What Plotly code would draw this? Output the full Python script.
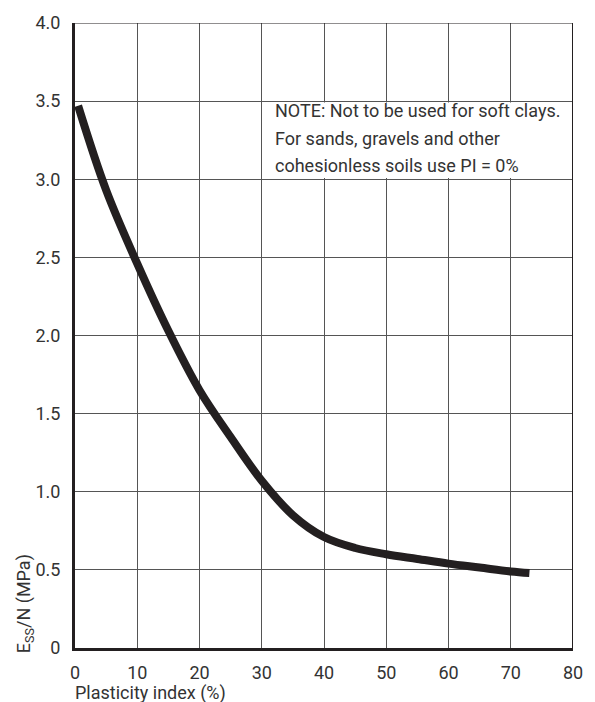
import plotly.graph_objects as go

# Elastic modulus ratio vs plasticity index
plasticity_index = [0.5, 5, 10, 15, 20, 25, 30, 35, 40, 45, 50, 55, 60, 65, 70, 73]
ess_over_n = [3.47, 2.93, 2.46, 2.03, 1.65, 1.35, 1.07, 0.85, 0.71, 0.64, 0.60, 0.57, 0.54, 0.515, 0.49, 0.48]

x_ticks = [0, 10, 20, 30, 40, 50, 60, 70, 80]
y_ticks = [0, 0.5, 1.0, 1.5, 2.0, 2.5, 3.0, 3.5, 4.0]
y_tick_labels = ["0", "0.5", "1.0", "1.5", "2.0", "2.5", "3.0", "3.5", "4.0"]

note_lines = [
    "NOTE: Not to be used for soft clays.",
    "For sands, gravels and other",
    "cohesionless soils use PI = 0%",
]

FONT = "Roboto, Liberation Sans Narrow, DejaVu Sans Condensed, sans-serif"
INK = "#231f20"
TEXT = "#333333"
GRID = "#555555"
FS = 18

fig = go.Figure()
fig.add_trace(go.Scatter(
    x=plasticity_index,
    y=ess_over_n,
    mode="lines",
    line=dict(color=INK, width=8, shape="spline", smoothing=1.0),
    hoverinfo="skip",
    showlegend=False,
))

# white panel behind the note, hiding the grid in that cell row
fig.add_shape(type="rect", xref="x", yref="y", x0=30.4, x1=79.8, y0=3.008, y1=3.492,
              fillcolor="white", line=dict(width=0), layer="between")
# top and right frame lines
fig.add_shape(type="line", xref="x", yref="y", x0=0, x1=80, y0=4.0, y1=4.0,
              line=dict(color=INK, width=1), layer="above")
fig.add_shape(type="line", xref="x", yref="y", x0=80, x1=80, y0=0, y1=4.0,
              line=dict(color=INK, width=2), layer="above")

# note text, one line per annotation for a looser line spacing
note_top, note_step = 3.438, 0.176
for i, line in enumerate(note_lines):
    fig.add_annotation(
        text=line, xref="x", yref="y", x=31.8, y=note_top - i * note_step,
        xanchor="left", yanchor="middle", align="left", showarrow=False,
        font=dict(family=FONT, size=FS, color=TEXT),
    )

fig.add_annotation(
    text="E<sub>SS</sub>/N (MPa)", xref="paper", yref="paper", x=-0.1, y=-0.012,
    xanchor="center", yanchor="bottom", textangle=-90, showarrow=False,
    font=dict(family=FONT, size=FS, color=TEXT),
)
fig.add_annotation(
    text="Plasticity index (%)", xref="paper", yref="paper", x=-0.005, y=-0.072,
    xanchor="left", yanchor="middle", showarrow=False,
    font=dict(family=FONT, size=FS, color=TEXT),
)

fig.update_xaxes(
    range=[0, 80], tickvals=x_ticks, ticktext=[str(v) for v in x_ticks],
    showgrid=True, gridcolor=GRID, gridwidth=1, zeroline=False,
    showline=True, linecolor=INK, linewidth=3, ticks="", ticklabelstandoff=6,
    tickfont=dict(family=FONT, size=FS, color=TEXT),
)
fig.update_yaxes(
    range=[0, 4.0], tickvals=y_ticks, ticktext=y_tick_labels,
    showgrid=True, gridcolor=GRID, gridwidth=1, zeroline=False,
    showline=True, linecolor=INK, linewidth=3, ticks="", ticklabelstandoff=8,
    tickfont=dict(family=FONT, size=FS, color=TEXT),
)

fig.update_layout(
    width=595, height=702,
    margin=dict(l=75, r=13, t=22, b=54),
    paper_bgcolor="white", plot_bgcolor="white",
    font=dict(family=FONT, color=TEXT),
)

fig.write_html("out.html")
